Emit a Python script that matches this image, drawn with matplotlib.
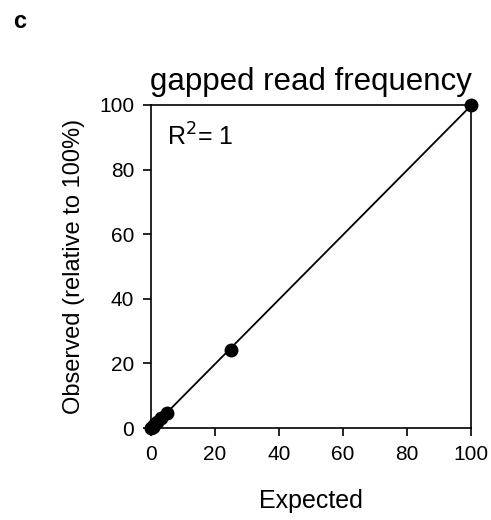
import numpy as np
import matplotlib
matplotlib.use("Agg")
import matplotlib.pyplot as plt

plt.rcParams["font.family"] = ["Liberation Sans", "DejaVu Sans"]

# valores
expected = [0, 0.5, 1, 2, 3, 5, 25, 100]
observed = [0, 0.4, 1, 2, 3, 4.5, 24, 100]
ticks = [0, 20, 40, 60, 80, 100]

fig = plt.figure(figsize=(4.91, 5.2), dpi=100)
ax = fig.add_axes([151 / 491, 1 - 428 / 520, 320 / 491, 323 / 520])

# linha de regressão
coef = np.polyfit(expected, observed, 1)
xs = np.array([0, 100])
ax.plot(xs, np.polyval(coef, xs), color="black", lw=1.3, zorder=2, clip_on=False)

ax.plot(expected, observed, "o", color="black", ms=9, zorder=3, clip_on=False)

ax.set_xlim(0, 100)
ax.set_ylim(0, 100)
ax.set_xticks(ticks)
ax.set_yticks(ticks)
ax.tick_params(direction="out", length=6, width=1.2, labelsize=15, pad=6)
for s in ax.spines.values():
    s.set_linewidth(1.2)

ax.set_title("gapped read frequency", fontsize=22.5, pad=11)
ax.set_xlabel("Expected", fontsize=18, labelpad=18)
ax.set_ylabel("Observed (relative to 100%)", fontsize=17, labelpad=10)

ax.text(0.05, 0.90, r"R$^{2}$= 1", transform=ax.transAxes, fontsize=18, va="center")

fig.text(13 / 491, 1 - 22 / 520, "c", fontsize=17, fontweight="bold", va="center")

fig.savefig("out.png", dpi=100)
